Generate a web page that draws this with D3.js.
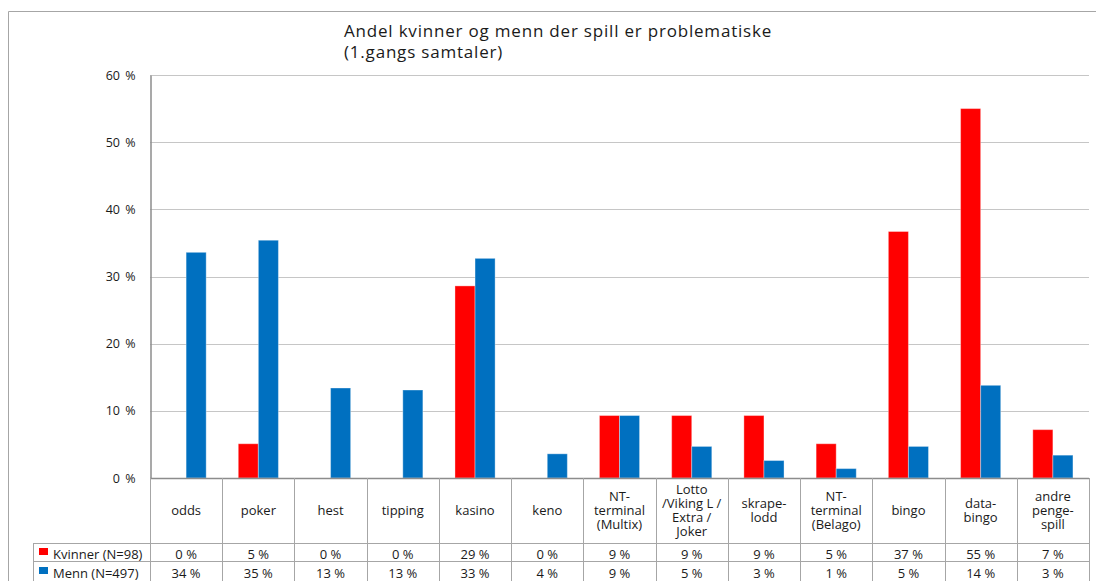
<!DOCTYPE html>
<html>
<head>
<meta charset="utf-8">
<style>
    body { margin: 0; background: #fff; }
    svg { display: block; }
    text { font-family: 'Open Sans', sans-serif; fill: #1a1a1a; }
    .grid line { stroke: #c6c6c6; }
    .table line { stroke: #a6a6a6; }
</style>
<script src="https://d3js.org/d3.v7.min.js"></script>
</head>
<body>
<svg width="1096" height="581"></svg>
<script>
    // chart data
    var categories = ['odds', 'poker', 'hest', 'tipping', 'kasino', 'keno', 'NT-terminal (Multix)',
        'Lotto /Viking L / Extra / Joker', 'skrape-lodd', 'NT-terminal (Belago)', 'bingo', 'data-bingo', 'andre penge-spill'];
    // line breaks of the category labels in the table
    var categoryLines = [['odds'], ['poker'], ['hest'], ['tipping'], ['kasino'], ['keno'],
        ['NT-', 'terminal', '(Multix)'], ['Lotto', '/Viking L /', 'Extra /', 'Joker'], ['skrape-', 'lodd'],
        ['NT-', 'terminal', '(Belago)'], ['bingo'], ['data-', 'bingo'], ['andre', 'penge-', 'spill']];
    var seriesNames = ['Kvinner (N=98)', 'Menn (N=497)'];
    var seriesColors = ['#ff0000', '#0070c0'];
    var kvinner = [0, 5.1, 0, 0, 28.6, 0, 9.3, 9.3, 9.3, 5.1, 36.7, 55.0, 7.2];
    var menn = [33.6, 35.4, 13.4, 13.1, 32.7, 3.6, 9.3, 4.7, 2.6, 1.4, 4.7, 13.8, 3.4];
    var yTicks = [0, 10, 20, 30, 40, 50, 60];
    var title = ['Andel kvinner og menn der spill er problematiske', '(1.gangs samtaler)'];

    var series = [kvinner, menn];
    var svg = d3.select('svg');

    var plotLeft = 150, plotRight = 1089, plotTop = 75, plotBottom = 478;
    var catRowBottom = 543;

    var x0 = d3.scaleBand()
        .domain(categories)
        .range([plotLeft, plotRight]);
    var x1 = d3.scaleBand()
        .domain([0, 1])
        .range([0, x0.bandwidth()])
        .paddingOuter(0.8);
    var y = d3.scaleLinear()
        .domain([0, 60])
        .range([plotBottom, plotTop]);

    // outer frame
    svg.append('path')
        .attr('d', 'M8.5,581V11.5H1096')
        .attr('fill', 'none')
        .attr('stroke', '#a6a6a6');

    // title
    svg.append('text')
        .attr('y', 37)
        .style('font-size', '17px')
        .style('letter-spacing', '0.8px')
        .selectAll('tspan')
        .data(title)
        .join('tspan')
        .attr('x', 344)
        .attr('dy', function (d, i) { return i ? 21 : 0; })
        .text(function (d) { return d; });

    // gridlines
    svg.append('g')
        .attr('class', 'grid')
        .selectAll('line')
        .data(yTicks.slice(1))
        .join('line')
        .attr('x1', plotLeft)
        .attr('x2', plotRight)
        .attr('y1', function (d) { return Math.round(y(d)) + 0.5; })
        .attr('y2', function (d) { return Math.round(y(d)) + 0.5; });

    // y axis
    var yAxis = d3.axisLeft(y)
        .tickValues(yTicks)
        .tickSize(0)
        .tickPadding(15)
        .tickFormat(function (d) { return d + ' %'; });
    var gy = svg.append('g')
        .attr('transform', 'translate(' + (plotLeft + 0.5) + ',0)')
        .call(yAxis);
    gy.select('.domain').attr('stroke', '#8c8c8c').attr('stroke-width', 1.5);
    gy.selectAll('text')
        .style('font-family', "'Open Sans', sans-serif")
        .style('font-size', '12.5px')
        .style('word-spacing', '2px')
        .attr('fill', '#1a1a1a');

    // bars
    svg.append('g')
        .selectAll('g')
        .data(series)
        .join('g')
        .attr('fill', function (d, i) { return seriesColors[i]; })
        .each(function (vals, s) {
            d3.select(this)
                .selectAll('rect')
                .data(vals)
                .join('rect')
                .attr('x', function (d, i) { return x0(categories[i]) + x1(s); })
                .attr('width', x1.bandwidth())
                .attr('y', function (d) { return y(d); })
                .attr('height', function (d) { return y(0) - y(d); })
                .attr('stroke', 'rgba(255,255,255,0.35)')
                .attr('stroke-width', 1);
        });

    // x baseline
    svg.append('line')
        .attr('x1', plotLeft)
        .attr('x2', plotRight)
        .attr('y1', plotBottom + 0.5)
        .attr('y2', plotBottom + 0.5)
        .attr('stroke', '#8c8c8c')
        .attr('stroke-width', 1.5);

    // data table
    var table = svg.append('g').attr('class', 'table');
    var bounds = categories.map(function (c) { return x0(c); }).concat([plotRight]);
    table.selectAll('line.v')
        .data(bounds)
        .join('line')
        .attr('class', 'v')
        .attr('x1', function (d) { return Math.round(d) + 0.5; })
        .attr('x2', function (d) { return Math.round(d) + 0.5; })
        .attr('y1', plotBottom)
        .attr('y2', 581);
    table.append('line')
        .attr('x1', 33.5).attr('x2', 33.5)
        .attr('y1', catRowBottom).attr('y2', 581);
    [catRowBottom, catRowBottom + 18].forEach(function (yy) {
        table.append('line')
            .attr('x1', 33).attr('x2', plotRight + 1)
            .attr('y1', yy + 0.5).attr('y2', yy + 0.5);
    });

    // category labels
    table.selectAll('text.cat')
        .data(categoryLines)
        .join('text')
        .attr('class', 'cat')
        .attr('text-anchor', 'middle')
        .style('font-size', '13px')
        .each(function (lines, i) {
            var cx = x0(categories[i]) + x0.bandwidth() / 2;
            var y0 = (plotBottom + catRowBottom) / 2 - (lines.length - 1) * 14 / 2 + 4.5;
            d3.select(this)
                .selectAll('tspan')
                .data(lines)
                .join('tspan')
                .attr('x', cx)
                .attr('y', function (d, j) { return y0 + j * 14; })
                .text(function (d) { return d; });
        });

    // value rows and legend keys
    series.forEach(function (vals, s) {
        var center = catRowBottom + 11 + s * 19;
        table.append('g')
            .selectAll('text')
            .data(vals)
            .join('text')
            .attr('x', function (d, i) { return x0(categories[i]) + x0.bandwidth() / 2; })
            .attr('y', center + 4.5)
            .attr('text-anchor', 'middle')
            .style('font-size', '13px')
            .text(function (d) { return Math.round(d) + ' %'; });
        table.append('rect')
            .attr('x', 39)
            .attr('y', center - 6)
            .attr('width', 9)
            .attr('height', 7)
            .attr('fill', seriesColors[s]);
        table.append('text')
            .attr('x', 53)
            .attr('y', center + 4.5)
            .style('font-size', '13px')
            .text(seriesNames[s]);
    });
</script>
</body>
</html>
